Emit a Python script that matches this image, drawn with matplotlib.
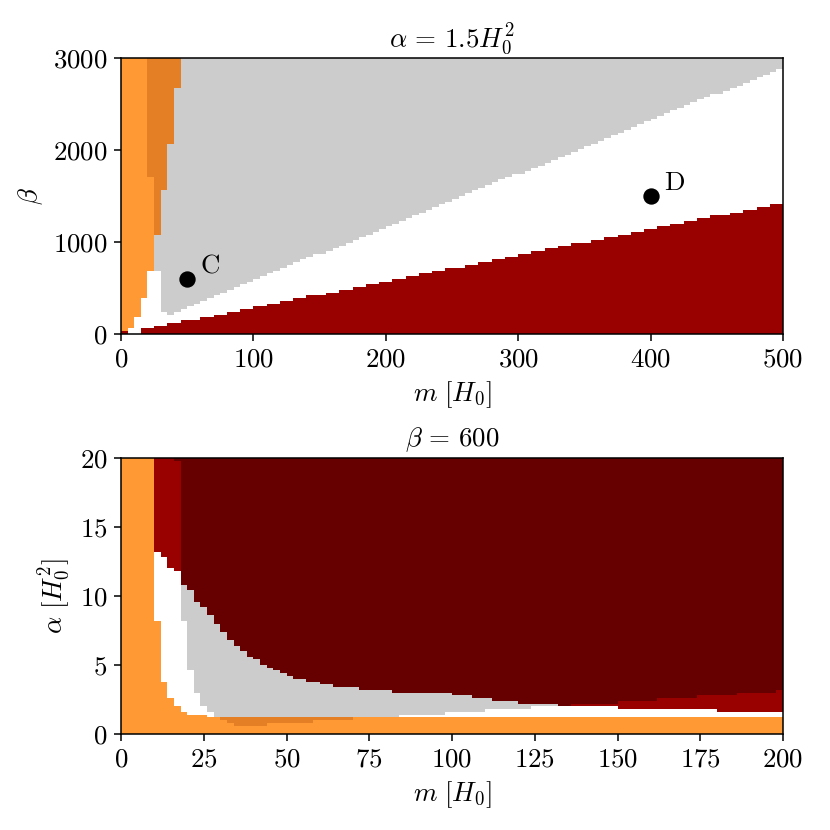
"""Phase diagram of the two parameter scans (alpha fixed / beta fixed).

Each panel is a categorical grid: every cell gets one region code, built from
per-column boundary lists read off the original figure, then drawn with
pcolormesh and a ListedColormap.
"""
import numpy as np
import matplotlib
matplotlib.use("Agg")
import matplotlib.pyplot as plt
from matplotlib.colors import ListedColormap

plt.rcParams["font.family"] = "serif"
plt.rcParams["font.serif"] = ["cmr10", "DejaVu Serif"]
plt.rcParams["mathtext.fontset"] = "cm"
plt.rcParams["axes.formatter.use_mathtext"] = True
plt.rcParams["font.size"] = 14

# region codes -> colours
LORANGE, DORANGE, WHITE, GRAY, RED, MAROON = range(6)
REGION_COLORS = ["#ff9933", "#e57f25", "#ffffff", "#cccccc", "#990000", "#660000"]

# --- top panel: alpha = 1.5 H0^2, m in [0, 500] (5 per column), beta in [0, 3000]
top_m_max, top_beta_max = 500, 3000
top_red_top = [
    30, 0, 0, 60, 60, 90, 90, 120, 120, 150,
    150, 150, 180, 180, 210, 210, 240, 240, 270, 270,
    300, 300, 330, 330, 360, 360, 390, 390, 420, 420,
    420, 450, 450, 480, 480, 510, 510, 540, 540, 570,
    570, 600, 600, 630, 630, 660, 660, 690, 690, 720,
    720, 720, 750, 750, 780, 780, 810, 810, 840, 840,
    870, 870, 900, 900, 930, 930, 960, 960, 990, 990,
    990, 1020, 1020, 1050, 1050, 1080, 1080, 1110, 1110, 1140,
    1140, 1170, 1170, 1200, 1200, 1230, 1230, 1260, 1260, 1290,
    1290, 1290, 1320, 1320, 1350, 1350, 1380, 1380, 1410, 1410,
]
top_white_top = [
    30, 60, 180, 390, 690, 690, 240, 210, 240, 270,
    300, 330, 360, 390, 420, 450, 480, 510, 540, 570,
    600, 630, 660, 690, 720, 750, 780, 810, 840, 870,
    870, 900, 930, 960, 990, 1020, 1050, 1080, 1110, 1140,
    1170, 1200, 1230, 1260, 1290, 1320, 1350, 1380, 1410, 1440,
    1470, 1500, 1530, 1560, 1590, 1620, 1650, 1680, 1710, 1740,
    1740, 1770, 1800, 1830, 1860, 1890, 1920, 1950, 1980, 2010,
    2040, 2070, 2100, 2130, 2160, 2190, 2220, 2250, 2280, 2310,
    2340, 2370, 2400, 2430, 2460, 2490, 2520, 2550, 2580, 2610,
    2610, 2640, 2670, 2700, 2730, 2760, 2790, 2820, 2850, 2880,
]
top_lorange_top = [3000, 3000, 3000, 3000, 1710] + [0] * 95
top_dorange_bot = [3000] * 4 + [1710, 1080, 1550, 2080, 2670] + [3000] * 91
top_points_m = [50, 400]
top_points_beta = [600, 1500]
top_points_label = ["C", "D"]

# --- bottom panel: beta = 600, m in [0, 200] (2 per column), alpha in [0, 20]
bot_m_max, bot_alpha_max = 200, 20
bot_orange_top = [20.0] * 5 + [8.2, 3.8, 2.6, 2.0, 1.6, 1.4, 1.4, 1.4] + [1.2] * 87
bot_dorange_bot = ([None] * 15 + [1.0, 0.8] + [0.6] * 5 + [0.8] * 7
                   + [1.0] * 6 + [None] * 65)
bot_white_top = ([20.0] * 5 + [13.2, 12.8, 12.0, 11.8, 8.2, 4.6, 3.0, 2.0, 1.6]
                 + [1.2] * 28 + [1.4] * 7 + [1.6] * 6 + [1.8] * 7
                 + [2.0] * 13 + [1.8] * 15 + [1.6] * 10)
bot_gray_top = ([0.0] * 9
                + [10.8, 10.4, 9.6, 9.2, 8.6, 8.0, 7.4, 6.8, 6.4, 6.0,
                   5.6, 5.4, 5.0, 4.8, 4.6, 4.4, 4.2]
                + [4.0] * 2 + [3.8] * 2 + [3.6] * 2 + [3.4] * 4 + [3.2] * 5
                + [3.0] * 9 + [2.8] * 3 + [2.6] * 3 + [2.4] * 4 + [2.2] * 6
                + [0.0] * 34)
bot_red_top = ([0.0] * 5 + [20.0] * 3 + [19.8] + [0.0] * 59
               + [2.2] * 7 + [2.4] * 6 + [2.6] * 6 + [2.8] * 6 + [3.0] * 6 + [3.2])


def top_grid():
    ncol, nrow = len(top_red_top), 100
    m_edges = np.linspace(0, top_m_max, ncol + 1)
    b_edges = np.linspace(0, top_beta_max, nrow + 1)
    b = 0.5 * (b_edges[1:] + b_edges[:-1])[:, None]
    full = np.ones((nrow, ncol), bool)
    red = np.array(top_red_top, float)[None, :]
    white = np.array(top_white_top, float)[None, :]
    lor = np.array(top_lorange_top, float)[None, :]
    dor = np.array(top_dorange_bot, float)[None, :]
    z = np.full((nrow, ncol), GRAY)
    z[(b < white) & full] = WHITE
    z[(b < red) & full] = RED
    z[(b >= white) & (b < lor)] = LORANGE
    z[(b >= dor) & full] = DORANGE
    return m_edges, b_edges, z


def bottom_grid():
    ncol, nrow = len(bot_orange_top), 100
    m_edges = np.linspace(0, bot_m_max, ncol + 1)
    a_edges = np.linspace(0, bot_alpha_max, nrow + 1)
    a = 0.5 * (a_edges[1:] + a_edges[:-1])[:, None]
    full = np.ones((nrow, ncol), bool)
    orange = np.array(bot_orange_top, float)[None, :]
    dor = np.array(bot_dorange_bot, dtype=float)[None, :]
    white = np.array(bot_white_top, float)[None, :]
    gray = np.array(bot_gray_top, float)[None, :]
    red = np.array(bot_red_top, float)[None, :]
    z = np.full((nrow, ncol), MAROON)
    z[(a < red) & full] = RED
    z[(a < gray) & full] = GRAY
    z[(a < white) & full] = WHITE
    z[(a < orange) & full] = LORANGE
    with np.errstate(invalid="ignore"):
        z[(a >= dor) & (a < orange)] = DORANGE
    return m_edges, a_edges, z


cmap = ListedColormap(REGION_COLORS)
fig = plt.figure(figsize=(6, 6), dpi=830 / 6)
ax1 = fig.add_axes([0.1458, 0.5976, 0.7976, 0.3325])
ax2 = fig.add_axes([0.1458, 0.1157, 0.7976, 0.3325])

# top panel
mx, by, z = top_grid()
ax1.pcolormesh(mx, by, z, cmap=cmap, vmin=-0.5, vmax=5.5, shading="flat")
ax1.plot(top_points_m, top_points_beta, "o", color="k", ms=7.5, zorder=3)
for m, b, lab in zip(top_points_m, top_points_beta, top_points_label):
    ax1.annotate(lab, (m, b), xytext=(7, 3), textcoords="offset points",
                 ha="left", va="baseline")
ax1.set_xlim(0, top_m_max)
ax1.set_ylim(0, top_beta_max)
ax1.set_xticks([0, 100, 200, 300, 400, 500])
ax1.set_yticks([0, 1000, 2000, 3000])
ax1.set_xlabel(r"$m\ [H_0]$")
ax1.set_ylabel(r"$\beta$")
ax1.set_title(r"$\alpha\,=\,1.5H_0^2$", fontsize=14)

# bottom panel
mx, ay, z = bottom_grid()
ax2.pcolormesh(mx, ay, z, cmap=cmap, vmin=-0.5, vmax=5.5, shading="flat")
ax2.set_xlim(0, bot_m_max)
ax2.set_ylim(0, bot_alpha_max)
ax2.set_xticks([0, 25, 50, 75, 100, 125, 150, 175, 200])
ax2.set_yticks([0, 5, 10, 15, 20])
ax2.set_xlabel(r"$m\ [H_0]$")
ax2.set_ylabel(r"$\alpha\ [H_0^2]$")
ax2.set_title(r"$\beta\,=\,600$", fontsize=14)

fig.savefig("out.png", dpi=830 / 6)
